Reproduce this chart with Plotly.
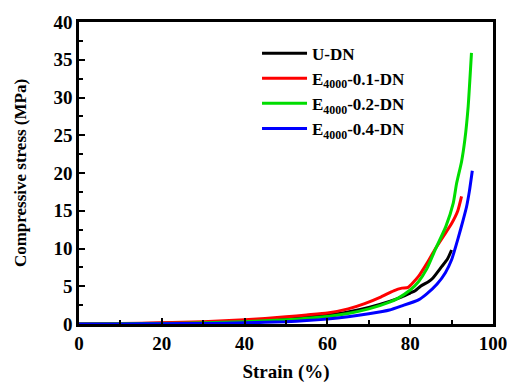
import plotly.graph_objects as go

# Data
strain_black = [0, 10, 20, 30, 40, 50, 55, 60, 65, 70, 75, 78, 80, 81.2, 82.5, 84.4, 85.5, 87.6, 89, 90]
stress_black = [0, 0.03, 0.1, 0.2, 0.35, 0.65, 0.9, 1.2, 1.6, 2.2, 3.0, 3.6, 4.1, 4.4, 5.0, 5.6, 6.1, 7.6, 8.6, 9.8]

strain_red = [0, 10, 20, 30, 40, 50, 55, 60, 65, 69, 73, 76, 78, 79.5, 82, 84, 86, 88, 90, 91.5, 92.4]
stress_red = [0, 0.05, 0.15, 0.3, 0.55, 0.95, 1.2, 1.45, 2.0, 2.7, 3.6, 4.4, 4.75, 4.85, 6.3, 8.0, 9.9, 11.6, 13.3, 15.0, 16.9]

strain_green = [0, 10, 20, 30, 40, 50, 55, 60, 65, 70, 75, 77, 80, 82, 84, 86, 88.6, 90.4, 91.2, 92.4, 93.2, 94, 94.8]
stress_green = [0, 0.03, 0.08, 0.15, 0.3, 0.55, 0.75, 1.0, 1.4, 2.0, 2.9, 3.4, 4.5, 5.6, 7.3, 9.8, 12.9, 16.0, 18.6, 21.5, 24.4, 28.8, 35.9]

strain_blue = [0, 10, 20, 30, 40, 50, 55, 60, 65, 70, 75, 78, 82, 84, 86.5, 88.5, 90, 91.6, 92.8, 93.6, 94.3, 95]
stress_blue = [0, 0.01, 0.03, 0.08, 0.15, 0.3, 0.45, 0.65, 0.95, 1.35, 1.85, 2.4, 3.2, 4.0, 5.3, 6.8, 8.5, 11.4, 13.8, 15.5, 17.6, 20.3]

names = ["U-DN", "E<sub>4000</sub>-0.1-DN", "E<sub>4000</sub>-0.2-DN", "E<sub>4000</sub>-0.4-DN"]
colors = ["#000000", "#ff0000", "#00dd00", "#0000ff"]

series = [
    (strain_black, stress_black),
    (strain_red, stress_red),
    (strain_green, stress_green),
    (strain_blue, stress_blue),
]

font_family = "Liberation Serif, Times New Roman, serif"

fig = go.Figure()
for (xs, ys), name, col in zip(series, names, colors):
    fig.add_trace(go.Scatter(
        x=xs, y=ys, mode="lines", name=name,
        line=dict(color=col, width=3, shape="spline", smoothing=0.5),
    ))

axis_common = dict(
    showgrid=False, zeroline=False, showline=True, linecolor="black",
    linewidth=2.5, mirror=True, ticks="inside", ticklen=6, tickwidth=2,
    tickcolor="black", automargin=False, ticklabeloverflow="allow",
    tickfont=dict(family=font_family, size=19, color="black", weight="bold"),
)

fig.update_layout(
    width=507, height=385,
    margin=dict(l=79, r=14, t=22, b=61),
    paper_bgcolor="white", plot_bgcolor="white",
    font=dict(family=font_family, color="black"),
    xaxis=dict(
        range=[0, 100], tickmode="linear", tick0=0, dtick=20,
        minor=dict(ticks="inside", dtick=10, ticklen=4, tickwidth=2, tickcolor="black"),
        title=dict(text="<b>Strain (%)</b>", font=dict(family=font_family, size=19, color="black"), standoff=13),
        **axis_common,
    ),
    yaxis=dict(
        range=[0, 40], tickmode="linear", tick0=0, dtick=5,
        minor=dict(ticks="inside", dtick=2.5, ticklen=4, tickwidth=2, tickcolor="black"),
        title=dict(text="<b>Compressive stress (MPa)</b>", font=dict(family=font_family, size=17, color="black"), standoff=23),
        **axis_common,
    ),
    legend=dict(
        x=0.43, y=0.955, xanchor="left", yanchor="top",
        bgcolor="rgba(0,0,0,0)", itemwidth=45,
        font=dict(family=font_family, size=17, color="black", weight="bold"),
        tracegroupgap=0,
    ),
    showlegend=True,
)

# remove the default 8px page margin so the figure fills the window exactly
fig.write_html(
    "out.html",
    config={"displayModeBar": False},
    post_script="document.body.style.margin='0px';",
)
